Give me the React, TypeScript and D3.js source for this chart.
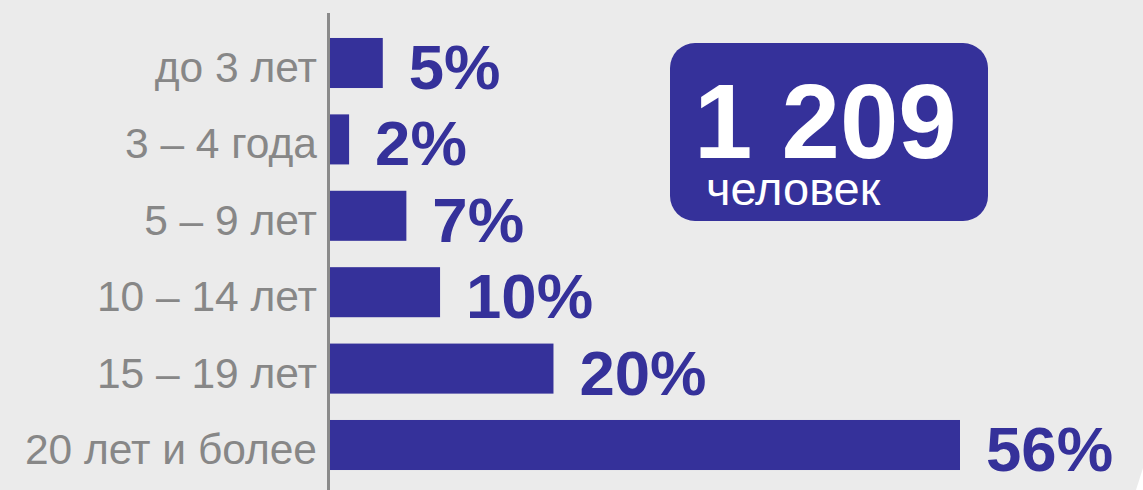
import React from "react";
import * as d3 from "d3";

const categories = ["до 3 лет", "3 – 4 года", "5 – 9 лет", "10 – 14 лет", "15 – 19 лет", "20 лет и более"];
const values = [4.7, 1.7, 6.8, 9.8, 19.9, 56.1];
const totalLabel = "1 209";
const totalUnit = "человек";

const W = 1143;
const H = 490;
const BG = "#ebebeb";
const NAVY = "#35319a";
const GRAY = "#878787";
const FONT = "'Liberation Sans', Arial, Helvetica, sans-serif";

export default function App() {
  const x = d3.scaleLinear().domain([0, 56.1]).range([330, 960]);
  const y = d3
    .scaleBand<string>()
    .domain(categories)
    .range([24.8, 483.2])
    .paddingInner(0.345)
    .paddingOuter(0.1725);
  const bw = y.bandwidth();

  return (
    <svg
      width={W}
      height={H}
      style={{ position: "absolute", left: 0, top: 0, display: "block" }}
      fontFamily={FONT}
    >
      <rect x={0} y={0} width={W} height={H} fill={BG} />
      <polygon points={`${W},468 ${W},${H} 1136,${H}`} fill="#ffffff" />
      {categories.map((c, i) => {
        const yc = (y(c) as number) + bw / 2;
        return (
          <g key={c}>
            <rect x={x(0)} y={y(c)} width={x(values[i]) - x(0)} height={bw} fill={NAVY} />
            <text x={317} y={yc + 19} textAnchor="end" fontSize={42.5} fill={GRAY}>
              {c}
            </text>
            <text x={x(values[i]) + 26} y={yc + 26} fontSize={63.5} fontWeight="bold" fill={NAVY}>
              {Math.round(values[i])}%
            </text>
          </g>
        );
      })}
      <line x1={328.5} x2={328.5} y1={13} y2={H} stroke="#8a8a8a" strokeWidth={3} />
      <rect x={670} y={43} width={318} height={178} rx={25} ry={25} fill={NAVY} />
      <text x={694} y={158} fontSize={105} fontWeight="bold" fill="#ffffff">
        {totalLabel}
      </text>
      <text x={706} y={205} fontSize={47} fill="#ffffff">
        {totalUnit}
      </text>
    </svg>
  );
}
